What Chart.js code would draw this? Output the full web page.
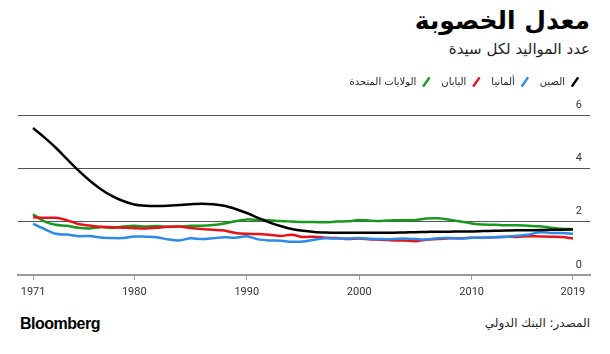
<!DOCTYPE html>
<html>
<head>
<meta charset="utf-8">
<script src="https://cdn.jsdelivr.net/npm/chart.js@4"></script>
<style>
  body { margin: 0; width: 610px; height: 354px; background: #fff; position: relative; overflow: hidden; font-family: "DejaVu Sans", "Noto Sans", sans-serif; }
  #title { position: absolute; right: 20px; top: 6px; font-size: 25px; font-weight: bold; direction: rtl; color: #000; }
  #subtitle { position: absolute; right: 20px; top: 40px; font-size: 15px; direction: rtl; color: #222; }
  #wrap { position: absolute; left: 0; top: 67px; width: 610px; height: 238px; }
  #logo { position: absolute; left: 20px; top: 315px; font-family: "Liberation Sans", Arial, sans-serif; font-weight: bold; font-size: 16px; letter-spacing: -0.5px; color: #000; }
  #source { position: absolute; right: 20px; top: 316px; font-size: 12px; direction: rtl; color: #222; }
</style>
</head>
<body>
<div id="title">معدل الخصوبة</div>
<div id="subtitle">عدد المواليد لكل سيدة</div>
<div id="wrap"><canvas id="fert"></canvas></div>
<div id="logo">Bloomberg</div>
<div id="source">المصدر: البنك الدولي</div>
<script>
const years = [];
for (let y = 1971; y <= 2019; y++) years.push(y);

const xTickYears = [1971, 1980, 1990, 2000, 2010, 2019];
const yTicks = [0, 2, 4, 6];

const china = [5.51, 5.16, 4.78, 4.35, 3.93, 3.55, 3.22, 2.96, 2.77, 2.64,
  2.59, 2.58, 2.59, 2.62, 2.65, 2.67, 2.65, 2.59, 2.47, 2.32,
  2.14, 1.97, 1.83, 1.72, 1.65, 1.61, 1.59, 1.58, 1.58, 1.58,
  1.58, 1.58, 1.58, 1.59, 1.60, 1.61, 1.62, 1.62, 1.63, 1.63,
  1.64, 1.65, 1.66, 1.67, 1.67, 1.68, 1.69, 1.69, 1.70];

const germany = [1.92, 1.72, 1.54, 1.51, 1.45, 1.46, 1.40, 1.38, 1.38, 1.44,
  1.43, 1.41, 1.33, 1.29, 1.37, 1.34, 1.37, 1.41, 1.39, 1.45,
  1.33, 1.29, 1.28, 1.24, 1.25, 1.32, 1.37, 1.36, 1.36, 1.38,
  1.35, 1.34, 1.34, 1.36, 1.34, 1.33, 1.37, 1.38, 1.36, 1.39,
  1.39, 1.41, 1.42, 1.47, 1.50, 1.60, 1.57, 1.57, 1.54];

const japan = [2.16, 2.14, 2.14, 2.05, 1.91, 1.85, 1.80, 1.79, 1.77, 1.75,
  1.74, 1.77, 1.80, 1.81, 1.76, 1.72, 1.69, 1.66, 1.57, 1.54,
  1.53, 1.50, 1.46, 1.50, 1.42, 1.43, 1.39, 1.38, 1.34, 1.36,
  1.33, 1.32, 1.29, 1.29, 1.26, 1.32, 1.34, 1.37, 1.37, 1.39,
  1.39, 1.41, 1.43, 1.42, 1.45, 1.44, 1.43, 1.42, 1.36];

const usa = [2.27, 2.01, 1.88, 1.84, 1.77, 1.74, 1.79, 1.76, 1.81, 1.84,
  1.81, 1.83, 1.80, 1.81, 1.84, 1.84, 1.87, 1.93, 2.01, 2.08,
  2.06, 2.05, 2.02, 2.00, 1.98, 1.98, 1.97, 2.00, 2.01, 2.06,
  2.03, 2.02, 2.05, 2.05, 2.06, 2.11, 2.12, 2.07, 2.00, 1.93,
  1.89, 1.88, 1.86, 1.86, 1.84, 1.82, 1.77, 1.73, 1.71];

function pts(values) {
    return values.map((v, i) => ({x: years[i], y: v}));
}

function series(label, values, color) {
    return {
        label: label,
        data: pts(values),
        borderColor: color,
        backgroundColor: color,
        borderWidth: 2.5,
        pointRadius: 0,
        pointStyle: 'line',
        pointRotation: -55,
        tension: 0.3
    };
}

// extra room under the legend
const legendGap = {
    id: 'legendGap',
    beforeInit(chart) {
        const fit = chart.legend.fit;
        chart.legend.fit = function () {
            fit.bind(chart.legend)();
            this.height += 18;
        };
    }
};

new Chart(
    document.getElementById('fert'),
    {
        type: 'line',
        data: {
            datasets: [
                series('الصين', china, '#000000'),
                series('ألمانيا', germany, '#2a8be8'),
                series('اليابان', japan, '#e8121a'),
                series('الولايات المتحدة', usa, '#179a1c')
            ]
        },
        plugins: [legendGap],
        options: {
            responsive: true,
            maintainAspectRatio: false,
            animation: false,
            layout: {
                padding: { left: 18, right: 20, top: 0, bottom: 0 }
            },
            scales: {
                x: {
                    type: 'linear',
                    min: 1969.66,
                    max: 2020.52,
                    afterBuildTicks: (axis) => {
                        axis.ticks = xTickYears.map(v => ({value: v}));
                    },
                    grid: {
                        drawOnChartArea: false,
                        drawTicks: true,
                        tickLength: 5,
                        color: '#999'
                    },
                    border: {
                        display: true,
                        color: '#999',
                        width: 2
                    },
                    ticks: {
                        autoSkip: false,
                        maxRotation: 0,
                        padding: 6,
                        color: '#333',
                        font: { family: 'Roboto', size: 11 },
                        callback: (v) => String(v)
                    }
                },
                y: {
                    position: 'right',
                    min: 0,
                    max: 6,
                    afterBuildTicks: (axis) => {
                        axis.ticks = yTicks.map(v => ({value: v}));
                    },
                    grid: {
                        color: (ctx) => ctx.tick && ctx.tick.value === 0 ? 'rgba(0,0,0,0)' : '#555',
                        lineWidth: 1,
                        drawTicks: false
                    },
                    border: { display: false },
                    ticks: {
                        mirror: true,
                        padding: -8,
                        labelOffset: -10,
                        color: '#333',
                        font: { family: 'Roboto', size: 11 }
                    }
                }
            },
            plugins: {
                tooltip: { enabled: false },
                legend: {
                    position: 'top',
                    align: 'start',
                    rtl: true,
                    textDirection: 'rtl',
                    labels: {
                        usePointStyle: true,
                        boxWidth: 10,
                        boxHeight: 8,
                        padding: 10,
                        color: '#222',
                        font: { family: 'DejaVu Sans', size: 10 }
                    }
                }
            }
        }
    }
);
</script>
</body>
</html>
